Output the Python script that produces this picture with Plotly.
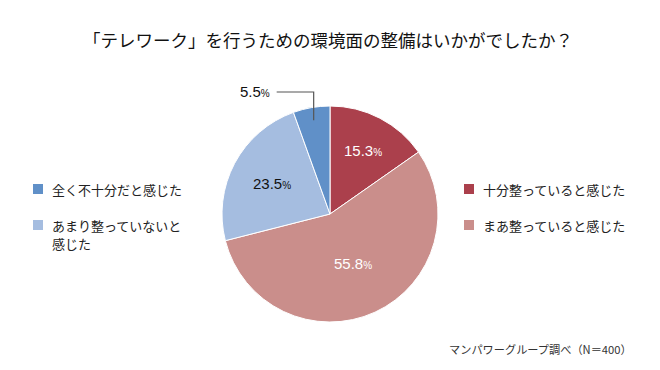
import math
import plotly.graph_objects as go

title = "「テレワーク」を行うための環境面の整備はいかがでしたか？"
categories = ["十分整っていると感じた", "まあ整っていると感じた", "あまり整っていないと感じた", "全く不十分だと感じた"]
values = [15.3, 55.8, 23.5, 5.5]
source = "マンパワーグループ調べ（N＝400）"

colors = ["#AB404C", "#CA8E8B", "#A5BDE0", "#6090C8"]
label_colors = ["white", "white", "#111111", "#111111"]
label_rfrac = [0.66, 0.50, 0.61, None]  # None -> outside with leader line

PAGE_W, PAGE_H = 660, 370
OFF = 8  # default body margin of the html page
W, H = PAGE_W - OFF, PAGE_H - OFF
CX, CY, R = 330, 214, 108
FONT = "Noto Sans CJK JP"
NUMFONT = "Liberation Sans, Arial, sans-serif"


def px_to_paper(x, y):
    return (x - OFF) / W, 1 - (y - OFF) / H


fig = go.Figure()
fig.add_trace(go.Pie(
    values=values, labels=categories, sort=False, direction="clockwise", rotation=0,
    marker=dict(colors=colors, line=dict(color="white", width=1)),
    textinfo="none", hoverinfo="label+percent", showlegend=False,
    domain=dict(x=[(CX - R - OFF) / W, (CX + R - OFF) / W],
                y=[1 - (CY + R - OFF) / H, 1 - (CY - R - OFF) / H]),
))


def fmt(v):
    return f"{v:.1f}<span style='font-size:10px'>%</span>"


total = sum(values)
start = 0.0
annotations = []
shapes = []
for v, col, rf in zip(values, label_colors, label_rfrac):
    ang = start + v / total * 360 / 2
    start += v / total * 360
    a = math.radians(ang)
    if rf is not None:
        x = CX + math.sin(a) * R * rf
        y = CY - math.cos(a) * R * rf
        px, py = px_to_paper(x, y)
        annotations.append(dict(x=px, y=py, xref="paper", yref="paper", text=fmt(v),
                                xanchor="center", yanchor="middle", showarrow=False,
                                font=dict(size=15, color=col, family=NUMFONT)))
    else:
        x0 = CX + math.sin(a) * R * 0.88
        y0 = CY - math.cos(a) * R * 0.88
        ytop = CY - R - 14
        xend = x0 - 37
        pts = [px_to_paper(x0, y0), px_to_paper(x0, ytop), px_to_paper(xend, ytop)]
        shapes.append(dict(type="path", xref="paper", yref="paper",
                           path="M {} {} L {} {} L {} {}".format(*[c for p in pts for c in p]),
                           line=dict(color="#555555", width=1.2)))
        lx, ly = px_to_paper(xend - 5, ytop)
        annotations.append(dict(x=lx, y=ly, xref="paper", yref="paper", text=fmt(v),
                                xanchor="right", yanchor="middle", showarrow=False,
                                font=dict(size=15, color=col, family=NUMFONT)))

# legends: (slice index, square centre x, centre y, text lines)
legend_items = [
    (3, 38, 189, ["全く不十分だと感じた"]),
    (2, 38, 225, ["あまり整っていないと", "感じた"]),
    (0, 469, 189, ["十分整っていると感じた"]),
    (1, 469, 225, ["まあ整っていると感じた"]),
]
for idx, sx, sy, lines in legend_items:
    x0, y0 = px_to_paper(sx - 5, sy - 5)
    x1, y1 = px_to_paper(sx + 5, sy + 5)
    shapes.append(dict(type="rect", xref="paper", yref="paper", x0=x0, y0=y1, x1=x1, y1=y0,
                       fillcolor=colors[idx], line=dict(width=0)))
    for k, line in enumerate(lines):
        tx, ty = px_to_paper(sx + 13, sy + 18.5 * k)
        annotations.append(dict(x=tx, y=ty, xref="paper", yref="paper", text=line, align="left",
                                xanchor="left", yanchor="middle", showarrow=False, borderpad=0,
                                font=dict(size=13, color="#222222", family=FONT)))

tx, ty = px_to_paper(328, 39)
annotations.append(dict(x=tx, y=ty, xref="paper", yref="paper", text=title, showarrow=False,
                        xanchor="center", yanchor="middle",
                        font=dict(size=17.5, color="#111111", family=FONT)))
tx, ty = px_to_paper(634, 349)
annotations.append(dict(x=tx, y=ty, xref="paper", yref="paper", text=source, showarrow=False,
                        xanchor="right", yanchor="middle",
                        font=dict(size=11.2, color="#333333", family=FONT)))

fig.update_layout(width=W, height=H, margin=dict(l=0, r=0, t=0, b=0),
                  paper_bgcolor="white", plot_bgcolor="white",
                  annotations=annotations, shapes=shapes, font=dict(family=FONT))
fig.write_html("out.html")
